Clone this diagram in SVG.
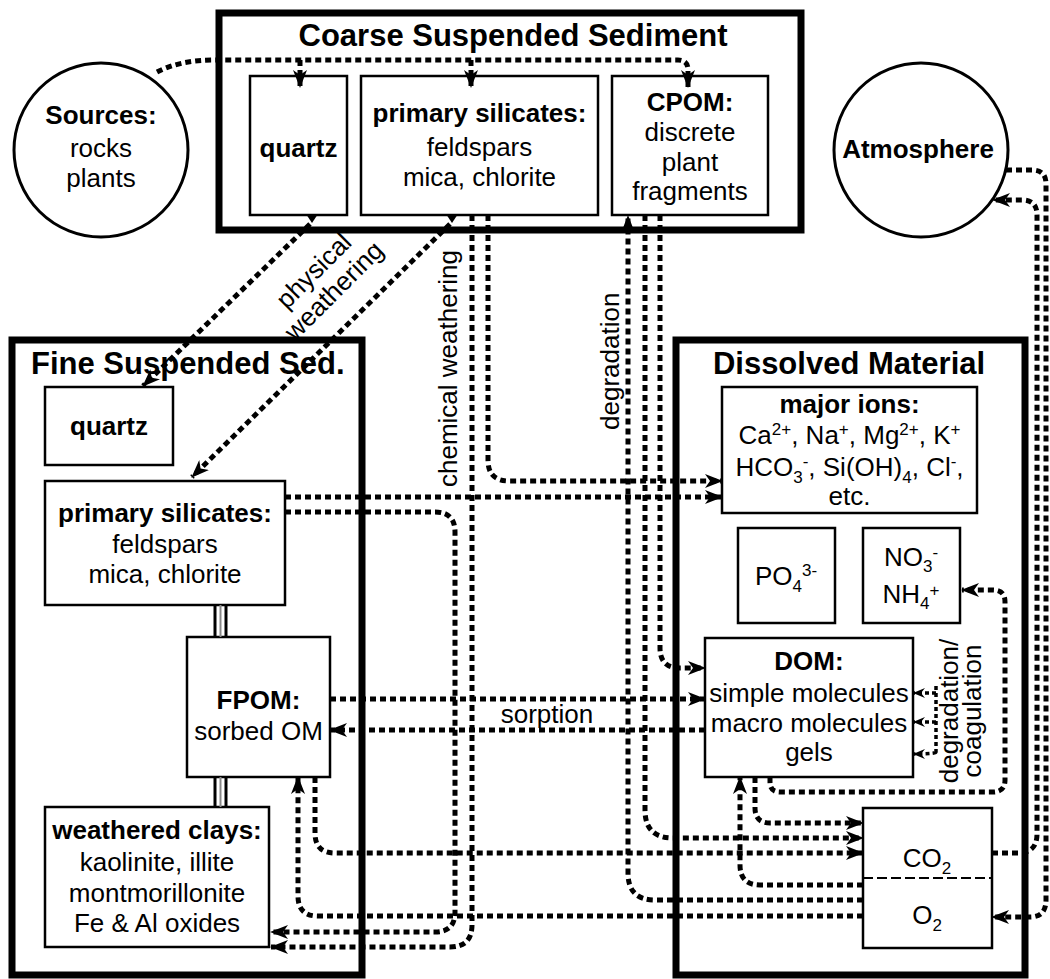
<svg xmlns="http://www.w3.org/2000/svg" width="1050" height="979" viewBox="0 0 1050 979">
<style>
text{font-family:"Liberation Sans",Arial,sans-serif;font-size:26px;fill:#000;text-anchor:middle}
.b{font-weight:bold}
.h{font-weight:bold;font-size:31px}
.s{font-size:17px}
.outer{fill:none;stroke:#000;stroke-width:7}
.box{fill:#fff;stroke:#000;stroke-width:2.5}
.circ{fill:#fff;stroke:#000;stroke-width:3}
.c{fill:none;stroke:#000;stroke-width:5;stroke-dasharray:6 4}
.cs{fill:none;stroke:#000;stroke-width:3.5;stroke-dasharray:4 3}
.tri{fill:#000}
.dbl{stroke:#000;stroke-width:3}
.dblg{stroke:#888;stroke-width:2}
</style>
<defs>
<marker id="a" markerUnits="userSpaceOnUse" viewBox="0 0 18 14" markerWidth="18" markerHeight="14" refX="17" refY="7" orient="auto"><path d="M0,0 L18,7 L0,14 L5,7 Z"/></marker>
<marker id="as" markerUnits="userSpaceOnUse" viewBox="0 0 12 10" markerWidth="12" markerHeight="10" refX="11" refY="5" orient="auto"><path d="M0,0 L12,5 L0,10 L4,5 Z"/></marker>
</defs>
<rect width="1050" height="979" fill="#fff"/>

<g id="sources">
<circle class="circ" cx="101" cy="150" r="87"/>
<text class="b" x="101" y="124">Sources:</text>
<text x="101" y="157">rocks</text>
<text x="101" y="187">plants</text>
</g>

<g id="atmosphere">
<circle class="circ" cx="921" cy="150" r="87"/>
<text class="b" x="918" y="158">Atmosphere</text>
</g>

<g id="coarse">
<rect class="outer" x="219" y="13" width="582" height="217"/>
<text class="h" x="513" y="46">Coarse Suspended Sediment</text>
</g>
<g id="coarse-quartz">
<rect class="box" x="250" y="76" width="97" height="139"/>
<text class="b" x="298.5" y="157">quartz</text>
</g>
<g id="coarse-silicates">
<rect class="box" x="361" y="76" width="237" height="139"/>
<text class="b" x="479.5" y="122">primary silicates:</text>
<text x="479.5" y="156">feldspars</text>
<text x="479.5" y="186">mica, chlorite</text>
</g>
<g id="cpom">
<rect class="box" x="612" y="76" width="156" height="139"/>
<text class="b" x="690" y="111">CPOM:</text>
<text x="690" y="141">discrete</text>
<text x="690" y="170.5">plant</text>
<text x="690" y="200">fragments</text>
</g>

<g id="fine">
<rect class="outer" x="12" y="340" width="350" height="635"/>
<text class="h" x="31" y="374" style="text-anchor:start">Fine Suspended Sed.</text>
</g>
<g id="fine-quartz">
<rect class="box" x="45" y="387" width="128" height="78"/>
<text class="b" x="109" y="435">quartz</text>
</g>
<g id="fine-silicates">
<rect class="box" x="45" y="481" width="240" height="124"/>
<text class="b" x="165" y="522">primary silicates:</text>
<text x="165" y="553">feldspars</text>
<text x="165" y="583">mica, chlorite</text>
</g>
<g id="fpom">
<rect class="box" x="187" y="637" width="143" height="140"/>
<text class="b" x="258.5" y="709">FPOM:</text>
<text x="258.5" y="740">sorbed OM</text>
</g>
<g id="clays">
<rect class="box" x="45" y="807" width="224" height="140"/>
<text class="b" x="157" y="839">weathered clays:</text>
<text x="157" y="871">kaolinite, illite</text>
<text x="157" y="902">montmorillonite</text>
<text x="157" y="932">Fe &amp; Al oxides</text>
</g>
<g id="fine-links">
<line class="dbl" x1="215" y1="605" x2="215" y2="637"/>
<line class="dblg" x1="220.5" y1="605" x2="220.5" y2="637"/>
<line class="dbl" x1="226" y1="605" x2="226" y2="637"/>
<line class="dbl" x1="215" y1="777" x2="215" y2="807"/>
<line class="dblg" x1="220.5" y1="777" x2="220.5" y2="807"/>
<line class="dbl" x1="226" y1="777" x2="226" y2="807"/>
</g>

<g id="dissolved">
<rect class="outer" x="676" y="340" width="349" height="635"/>
<text class="h" x="849" y="374">Dissolved Material</text>
</g>
<g id="major-ions">
<rect class="box" x="722" y="387" width="255" height="126"/>
<text class="b" x="849.5" y="413">major ions:</text>
<text x="849.5" y="444">Ca<tspan class="s" dy="-9">2+</tspan><tspan dy="9">, Na</tspan><tspan class="s" dy="-9">+</tspan><tspan dy="9">, Mg</tspan><tspan class="s" dy="-9">2+</tspan><tspan dy="9">, K</tspan><tspan class="s" dy="-9">+</tspan></text>
<text x="849.5" y="476">HCO<tspan class="s" dy="7">3</tspan><tspan class="s" dy="-16">-</tspan><tspan dy="9">, Si(OH)</tspan><tspan class="s" dy="7">4</tspan><tspan dy="-7">, Cl</tspan><tspan class="s" dy="-9">-</tspan><tspan dy="9">,</tspan></text>
<text x="849.5" y="505">etc.</text>
</g>
<g id="po4">
<rect class="box" x="738" y="528" width="97" height="95"/>
<text x="786" y="585">PO<tspan class="s" dy="7">4</tspan><tspan class="s" dy="-16">3-</tspan></text>
</g>
<g id="no3">
<rect class="box" x="863" y="528" width="97" height="95"/>
<text x="911" y="566">NO<tspan class="s" dy="6">3</tspan><tspan class="s" dy="-14">-</tspan></text>
<text x="911" y="603">NH<tspan class="s" dy="6">4</tspan><tspan class="s" dy="-13">+</tspan></text>
</g>
<g id="dom">
<rect class="box" x="705" y="638" width="208" height="139"/>
<text class="b" x="809" y="670">DOM:</text>
<text x="809" y="702">simple molecules</text>
<text x="809" y="732">macro molecules</text>
<text x="809" y="761">gels</text>
</g>
<g id="gases">
<rect class="box" x="863" y="808" width="129" height="140"/>
<line x1="863" y1="878" x2="992" y2="878" stroke="#000" stroke-width="2" stroke-dasharray="10 4"/>
<text x="927" y="867">CO<tspan class="s" dy="7">2</tspan></text>
<text x="927" y="924">O<tspan class="s" dy="7">2</tspan></text>
</g>

<g id="connectors">
<path class="c" d="M157,72 Q180,60 215,60 L678,60 Q688,60 688,70 L688,87" marker-end="url(#a)"/>
<path class="c" d="M300,60 L300,87" marker-end="url(#a)"/>
<path class="c" d="M471,60 L471,87" marker-end="url(#a)"/>
<polygon class="tri" points="306,214 318,214 312,223"/>
<polygon class="tri" points="446,214 458,214 452,223"/>
<path class="c" d="M310,224 L143,386" marker-end="url(#a)"/>
<path class="c" d="M450,224 L192,477" marker-end="url(#a)"/>
<path class="c" d="M472,215 L472,925 Q472,947 450,947 L271,947" marker-end="url(#a)"/>
<path class="c" d="M488,215 L488,460 Q488,481 509,481 L722,481" marker-end="url(#a)"/>
<path class="c" d="M285,497 L722,497" marker-end="url(#a)"/>
<path class="c" d="M285,512 L435,512 Q455,512 455,532 L455,912 Q455,932 435,932 L271,932" marker-end="url(#a)"/>
<path class="c" d="M863,900 L655,900 Q628,900 628,873 L628,216" marker-end="url(#a)"/>
<path class="c" d="M645,215 L645,810 Q645,838 673,838 L863,838" marker-end="url(#a)"/>
<path class="c" d="M660,215 L660,648 Q660,668 680,668 L705,668" marker-end="url(#a)"/>
<path class="c" d="M330,699 L705,699" marker-end="url(#a)"/>
<path class="c" d="M705,730 L330,730" marker-end="url(#a)"/>
<path class="c" d="M315,777 L315,833 Q315,853 335,853 L863,853" marker-end="url(#a)"/>
<path class="c" d="M863,916 L318,916 Q298,916 298,896 L298,777" marker-end="url(#a)"/>
<path class="c" d="M755,777 L755,808 Q755,823 770,823 L863,823" marker-end="url(#a)"/>
<path class="c" d="M863,885 L760,885 Q740,885 740,865 L740,777" marker-end="url(#a)"/>
<path class="c" d="M770,777 L770,782 Q770,792 780,792 L993,792 Q1005,792 1005,780 L1005,602 Q1005,590 993,590 L962,590" marker-end="url(#a)"/>
<path class="c" d="M992,853 L1018,853 Q1037,853 1037,834 L1037,215 Q1037,200 1022,200 L993,200" marker-end="url(#a)"/>
<path class="c" d="M1006,170 L1032,170 Q1046,170 1046,184 L1046,900 Q1046,917 1030,917 L992,917" marker-end="url(#a)"/>
<path class="cs" d="M936,686 L936,752"/>
<path class="cs" d="M936,693 L914,693" marker-end="url(#as)"/>
<path class="cs" d="M936,722 L914,722" marker-end="url(#as)"/>
<path class="cs" d="M936,752 Q936,754 914,754" marker-end="url(#as)"/>
</g>

<g id="labels">
<text transform="translate(320,277) rotate(-45)">physical</text>
<text transform="translate(340,297) rotate(-45)">weathering</text>
<text transform="translate(457,487) rotate(-90)" style="text-anchor:start">chemical weathering</text>
<text transform="translate(619,430) rotate(-90)" style="text-anchor:start">degradation</text>
<text x="547" y="723">sorption</text>
<text transform="translate(958,711) rotate(-90)">degradation/</text>
<text transform="translate(981,711) rotate(-90)">coagulation</text>
</g>
</svg>
